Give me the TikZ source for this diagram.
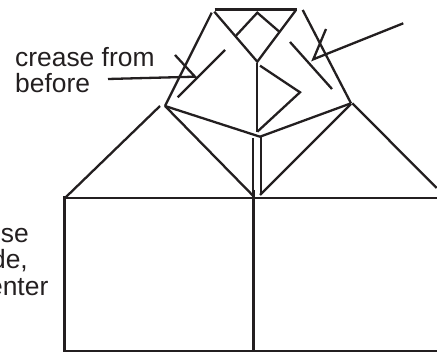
\documentclass[tikz,border=0pt]{standalone}
\usepackage{fontspec}
\setmainfont{Liberation Sans}
\definecolor{ink}{HTML}{231F20}
\tikzset{
  ln/.style={draw=ink,line width=2.3pt,line cap=butt,line join=miter},
  thinln/.style={draw=ink,line width=1.6pt},
  lbl/.style={text=ink,font=\fontsize{26.4}{26}\selectfont,inner sep=0pt,anchor=base west},
  lblr/.style={text=ink,font=\fontsize{26.4}{26}\selectfont,inner sep=0pt,anchor=base east}
}
\begin{document}
\begin{tikzpicture}[x=1pt,y=-1pt]
\useasboundingbox (0,0) rectangle (437,352);
\clip (0,0) rectangle (437,352);
% labels
\node[lbl] (t1) at (15,66.5) {crease from};
\node[lbl] (t2) at (15,92.5) {before};
\node[lblr] (t3) at (29,243) {se};
\node[lblr] (t4) at (28,269) {de,};
\node[lblr] (t5) at (48.5,296) {enter};
% square pair
\draw[ln] (64.5,196) -- (64.5,352);
\draw[ln] (66,198.3) -- (437,198.3);
\draw[ln] (253.5,190) -- (253.5,352);
\draw[thinln] (64,351) -- (437,351);
% side triangles
\draw[ln] (66,197) -- (160,106);
\draw[ln] (352.3,103.3) -- (436.7,188);
% top piece
\draw[ln] (214.5,9.5) -- (296.5,9.5);
\draw[ln] (211.7,12.7) -- (165,106);
\draw[ln] (302.7,10) -- (351,103.3);
\draw[ln] (214.3,11.7) -- (257.3,61.7) -- (296,10);
\draw[ln] (236,35.7) -- (257.3,12.7) -- (279.3,31.7);
% creases
\draw[ln] (225,50) -- (177.7,97.3);
\draw[ln] (290,42) -- (332,89);
% arrows
\draw[ln] (108,79) -- (195,76.7) -- (175,55);
\draw[ln] (403.3,23.3) -- (313.3,59.3) -- (326,29);
% centre
\draw[ln] (257.3,63.3) -- (257.3,131.7);
\draw[ln] (260,65.7) -- (300,92.3) -- (257.3,131.7);
% lower V
\draw[ln] (165,106) -- (260,136.7) -- (351,103.3);
\draw[ln] (165,106) -- (254,196.7);
\draw[ln] (351,104) -- (260,195);
\draw[ln] (253.3,138.3) -- (253.3,197);
\draw[ln] (261,137.3) -- (261,195);
\end{tikzpicture}
\end{document}
